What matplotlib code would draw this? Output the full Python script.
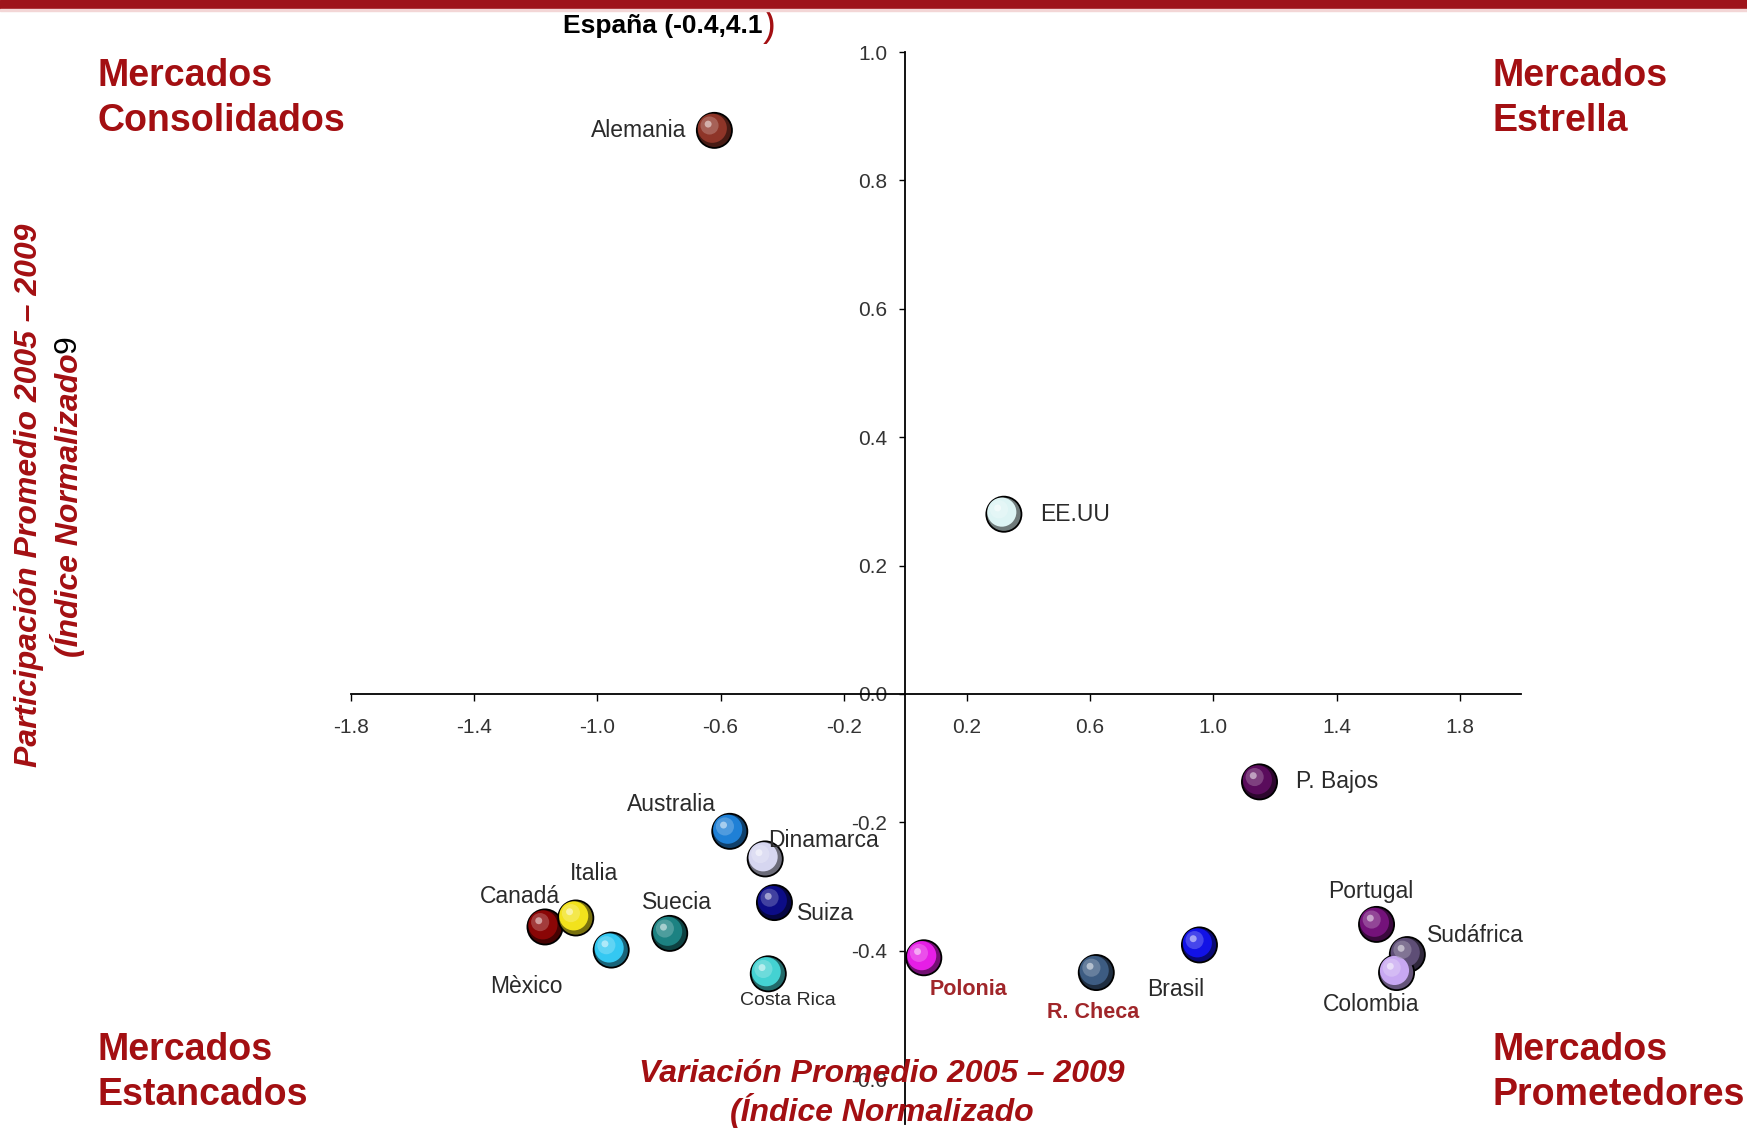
import numpy as np
import matplotlib
matplotlib.use("Agg")
import matplotlib.pyplot as plt
from matplotlib.colors import to_rgb
from matplotlib.patches import Rectangle
import matplotlib.transforms as mtransforms

plt.rcParams['font.family'] = ['Liberation Sans', 'DejaVu Sans']

# ---------------- data ----------------
countries = ["Alemania", "EE.UU", "P. Bajos", "Australia", "Dinamarca", "Suiza",
             "Canadá", "Italia", "Mèxico", "Suecia", "Costa Rica", "Polonia",
             "R. Checa", "Brasil", "Portugal", "Sudáfrica", "Colombia"]
variacion = [-0.62, 0.32, 1.15, -0.57, -0.455, -0.425,
             -1.17, -1.07, -0.955, -0.765, -0.445, 0.06,
             0.62, 0.955, 1.53, 1.63, 1.595]
participacion = [0.878, 0.280, -0.137, -0.214, -0.257, -0.325,
                 -0.363, -0.349, -0.399, -0.373, -0.436, -0.411,
                 -0.434, -0.391, -0.359, -0.406, -0.434]
colors = ["#8E3528", "#DDF4F4", "#5A0C5C", "#1F80D6", "#D6D6F0", "#0C0C86",
          "#8A0606", "#F2E21C", "#34C8F2", "#1C8282", "#44D2D2", "#E61EE6",
          "#3D5C82", "#1212E6", "#74127A", "#5E4E76", "#C8A8F2"]
xticks = [-1.8, -1.4, -1.0, -0.6, -0.2, 0.2, 0.6, 1.0, 1.4, 1.8]
yticks = [1.0, 0.8, 0.6, 0.4, 0.2, 0.0, -0.2, -0.4, -0.6]

# label placement (offsets in points), alignment
lab_off = [(-20, 0), (26, 0), (26, 0), (-10, 19), (2, 13), (16, -8),
           (11, 22), (13, 32), (-61, -26), (5, 22), (14, -19), (4, -23),
           (-2, -29), (-17, -32), (-4, 24), (14, 14), (-18, -23)]
lab_ha = ["right", "left", "left", "right", "left", "left",
          "right", "center", "center", "center", "center", "left",
          "center", "center", "center", "left", "center"]

RED = "#A30F12"

fig = plt.figure(figsize=(17.47, 11.29), dpi=100)
ax = fig.add_axes([0.2009, 0.0044, 0.6699, 0.9495])
ax.set_xlim(-1.8, 2.0)
ax.set_ylim(-0.67, 1.0)

for s in ["top", "right"]:
    ax.spines[s].set_visible(False)
ax.spines["left"].set_position(("data", 0))
ax.spines["bottom"].set_position(("data", 0))
ax.spines["left"].set_linewidth(1.3)
ax.spines["bottom"].set_linewidth(1.3)
ax.set_xticks(xticks)
ax.set_xticklabels([f"{v:.1f}" for v in xticks])
ax.set_yticks(yticks)
ax.set_yticklabels([f"{v:.1f}" for v in yticks])
ax.tick_params(axis="x", direction="out", length=5, width=1, pad=12,
               labelsize=15, labelcolor="#333333")
ax.tick_params(axis="y", direction="out", length=4, width=1, pad=9,
               labelsize=15, labelcolor="#333333")

# spheres
x = np.array(variacion)
y = np.array(participacion)
base = [tuple(np.array(to_rgb(c)) * 0.5) for c in colors]
mid = [to_rgb(c) for c in colors]
light = [tuple(np.array(to_rgb(c)) * 0.6 + 0.4) for c in colors]
ax.scatter(x, y, s=640, c=base, edgecolors="black", linewidths=1.3, zorder=3)
tr1 = mtransforms.offset_copy(ax.transData, fig=fig, x=-1.5, y=1.5, units="points")
ax.scatter(x, y, s=440, c=mid, edgecolors="none", zorder=4, transform=tr1)
tr2 = mtransforms.offset_copy(ax.transData, fig=fig, x=-3.5, y=3.5, units="points")
ax.scatter(x, y, s=170, c=light, edgecolors="none", alpha=0.55, zorder=5, transform=tr2)
tr3 = mtransforms.offset_copy(ax.transData, fig=fig, x=-4.5, y=4.5, units="points")
ax.scatter(x, y, s=25, c="white", edgecolors="none", alpha=0.5, zorder=6, transform=tr3)

for name, xi, yi, off, ha in zip(countries, x, y, lab_off, lab_ha):
    kw = dict(fontsize=16.5, color="#2a2a2a")
    if name in ("Polonia", "R. Checa"):
        kw = dict(fontsize=15.5, color="#A0262A", fontweight="bold")
    elif name == "Costa Rica":
        kw = dict(fontsize=14, color="#2a2a2a")
    ax.annotate(name, (xi, yi), xytext=off, textcoords="offset points",
                ha=ha, va="center", zorder=7, **kw)

# top red band
fig.patches.append(Rectangle((0, 1 - 9 / 1129), 1, 9 / 1129, transform=fig.transFigure,
                             color="#9E141B", zorder=10))
fig.patches.append(Rectangle((0, 1 - 11 / 1129), 1, 2 / 1129, transform=fig.transFigure,
                             color="#F3D6D6", zorder=10))

# quadrant titles
qkw = dict(fontsize=27, fontweight="bold", color=RED, linespacing=1.32)
fig.text(0.0556, 0.949, "Mercados\nConsolidados", ha="left", va="top", **qkw)
fig.text(0.8546, 0.949, "Mercados\nEstrella", ha="left", va="top", **qkw)
fig.text(0.0556, 0.086, "Mercados\nEstancados", ha="left", va="top", **qkw)
fig.text(0.8546, 0.086, "Mercados\nPrometedores", ha="left", va="top", **qkw)

# España note
renderer = fig.canvas.get_renderer()
esp = fig.text(0.3222, 0.977, "España (-0.4,4.1", ha="left", va="center",
               fontsize=19, fontweight="bold", color="black")
eb = esp.get_window_extent(renderer=renderer)
fig.text(0.0, 0.0, ")", ha="left", va="center", fontsize=28, color=RED,
         transform=mtransforms.offset_copy(fig.transFigure, fig=fig,
                                           x=eb.x1 / fig.dpi,
                                           y=(eb.y0 + eb.y1) / 2 / fig.dpi, units="inches"))

# axis titles
lkw = dict(fontsize=23, fontweight="bold", fontstyle="italic", color=RED)
fig.text(0.505, 0.049, "Variación Promedio 2005 – 2009", ha="center", va="center",
         zorder=8, **lkw)
fig.text(0.505, 0.016, "(Índice Normalizado", ha="center", va="center", zorder=8, **lkw)
fig.text(0.0165, 0.5616, "Participación Promedio 2005 – 2009", rotation=90,
         ha="center", va="center", **lkw)
yl2 = fig.text(0.0384, 0.418, "(Índice Normalizado", rotation=90,
               ha="center", va="bottom", **lkw)
bb = yl2.get_window_extent(renderer=renderer)
fig.text(0.0, 0.0, "9", rotation=90, ha="center", va="bottom", fontsize=23, color="black",
         transform=mtransforms.offset_copy(fig.transFigure, fig=fig,
                                           x=(bb.x0 + bb.x1) / 2 / fig.dpi,
                                           y=bb.y1 / fig.dpi, units="inches"))

fig.savefig("out.png", dpi=100)
